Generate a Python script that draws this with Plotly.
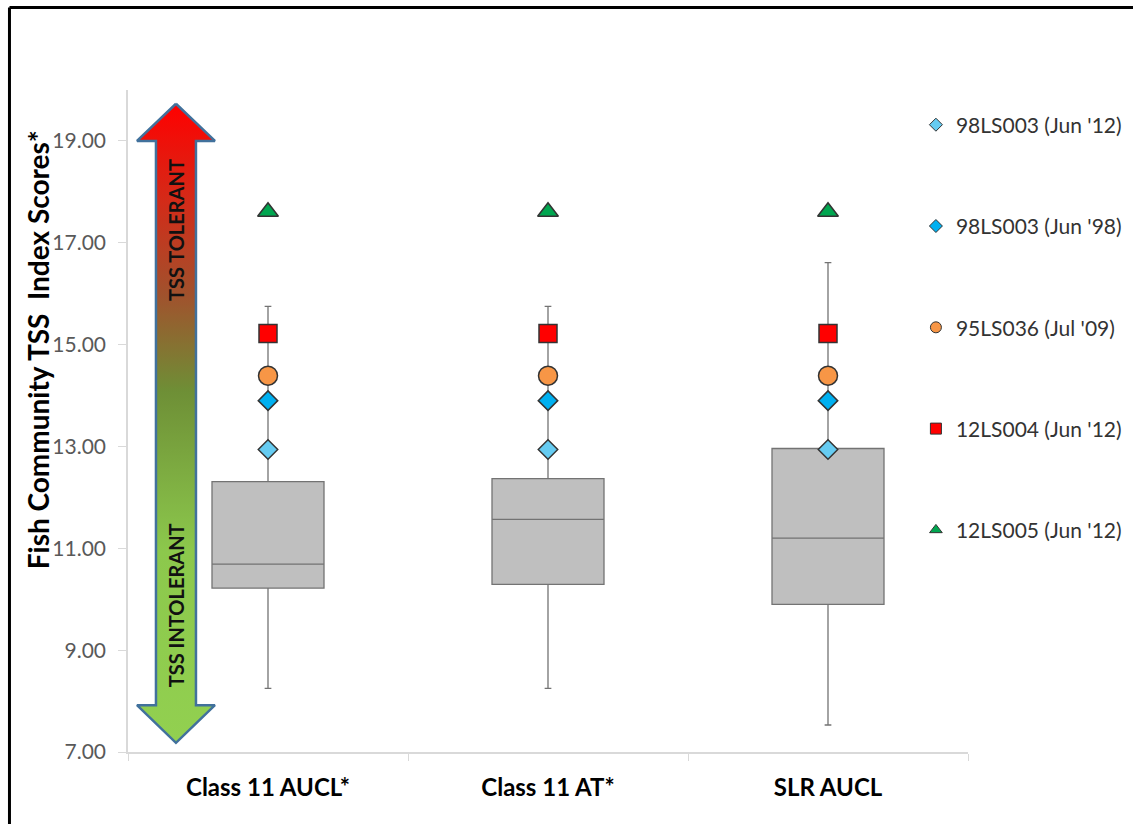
import plotly.graph_objects as go

# ---------------- data ----------------
categories = ["Class 11 AUCL*", "Class 11 AT*", "SLR AUCL"]
q1 = [10.22, 10.29, 9.90]
median = [10.69, 11.57, 11.20]
q3 = [12.31, 12.37, 12.96]
lower_whisker = [8.25, 8.25, 7.53]
upper_whisker = [15.75, 15.75, 16.61]

sites = ["98LS003 (Jun '12)", "98LS003 (Jun '98)", "95LS036 (Jul '09)",
         "12LS004 (Jun '12)", "12LS005 (Jun '12)"]
site_scores = [12.94, 13.90, 14.39, 15.22, 17.61]
site_symbols = ["diamond", "diamond", "circle", "square", "triangle-up"]
site_colors = ["#66CCF2", "#00B0F0", "#F79646", "#FF0000", "#00A650"]
site_sizes = [15, 15, 19, 18, 18]

y_ticks = [7, 9, 11, 13, 15, 17, 19]

# arrow decoration (x2 = [0,1] across plot width, y in data units)
arrow_x = [0.0571, 0.1035, 0.0809, 0.0809, 0.1035, 0.0571, 0.0107, 0.0333, 0.0333, 0.0107, 0.0571]
arrow_y = [19.73, 19.0, 19.0, 7.92, 7.92, 7.18, 7.92, 7.92, 19.0, 19.0, 19.73]

FONT = "Lato"

fig = go.Figure()

fig.add_trace(go.Scatter(
    x=arrow_x, y=arrow_y, xaxis="x2", yaxis="y", mode="lines",
    fill="toself",
    fillgradient=dict(type="vertical", start=7.18, stop=19.73,
                      colorscale=[[0, "#92D050"], [0.3, "#8CC84C"], [0.55, "#6E8F36"],
                                  [0.7, "#A0522D"], [0.85, "#D42A18"], [1, "#FF0000"]]),
    line=dict(color="#41719C", width=2.5),
    showlegend=False, hoverinfo="skip"))

fig.add_trace(go.Box(
    x=categories, q1=q1, median=median, q3=q3,
    lowerfence=lower_whisker, upperfence=upper_whisker,
    fillcolor="#BFBFBF", line=dict(color="#737373", width=1.3),
    width=0.4, whiskerwidth=0.06, showlegend=False, hoverinfo="skip"))

for name, score, sym, col, sz in zip(sites, site_scores, site_symbols, site_colors, site_sizes):
    fig.add_trace(go.Scatter(
        x=categories, y=[score] * len(categories), mode="markers",
        marker=dict(symbol=sym, color=col, size=sz, line=dict(color="#333333", width=1.5)),
        showlegend=False, name=name, hoverinfo="skip"))

for name, sym, col in zip(sites, site_symbols, site_colors):
    fig.add_trace(go.Scatter(
        x=[None], y=[None], mode="markers", name=name, legendgroup=name,
        marker=dict(symbol=sym, color=col, size=11 if sym != "diamond" else 10,
                    line=dict(color="#333333", width=1))))

fig.add_annotation(text="<b>TSS TOLERANT</b>", xref="x2", yref="y", x=0.0571, y=17.25,
                   textangle=-90, showarrow=False, font=dict(family=FONT, size=20, color="#111111"))
fig.add_annotation(text="<b>TSS INTOLERANT</b>", xref="x2", yref="y", x=0.0571, y=9.88,
                   textangle=-90, showarrow=False, font=dict(family=FONT, size=20, color="#111111"))

# y-axis title (positioned like the original, above plot centre)
fig.add_annotation(text="<b>Fish Community TSS  Index Scores*</b>", xref="paper", yref="paper",
                   x=-0.107, y=0.607, xanchor="center", yanchor="middle",
                   textangle=-90, showarrow=False,
                   font=dict(family=FONT, size=28, color="black"))

# outer frame (top and left edges)
fig.add_shape(type="line", xref="paper", yref="paper", x0=-0.1411, x1=1.2, y0=1.1246, y1=1.1246,
              line=dict(color="black", width=3))
fig.add_shape(type="line", xref="paper", yref="paper", x0=-0.1411, x1=-0.1411, y0=1.1246, y1=-0.2,
              line=dict(color="black", width=3))

fig.update_layout(
    width=1133, height=824,
    margin=dict(l=128, r=165, t=90, b=72, autoexpand=False),
    paper_bgcolor="white", plot_bgcolor="white",
    font=dict(family=FONT, color="#595959"),
    xaxis=dict(type="category", categoryorder="array", categoryarray=categories,
               range=[-0.5, 2.5], tickson="boundaries", ticks="outside", ticklen=7,
               tickcolor="#D9D9D9", showline=True, linecolor="#D9D9D9", linewidth=1.5,
               showgrid=False, zeroline=False, ticklabelstandoff=13,
               tickfont=dict(family=FONT, size=24, color="black", weight="bold")),
    xaxis2=dict(overlaying="x", range=[0, 1], visible=False, showgrid=False),
    yaxis=dict(range=[7, 20], tickvals=y_ticks, tickformat=".2f", ticks="outside", ticklen=8,
               tickcolor="#D9D9D9", showline=True, linecolor="#D9D9D9", linewidth=1.5,
               showgrid=False, zeroline=False, ticklabelstandoff=8,
               tickfont=dict(family=FONT, size=21, color="#595959")),
    legend=dict(x=0.938, xanchor="left", y=0.978, yanchor="top", tracegroupgap=71,
                font=dict(family=FONT, size=21, color="#333333"), bgcolor="rgba(0,0,0,0)"),
)

fig.write_html("out.html", post_script="document.body.style.margin='0';",
               config={"displayModeBar": False})
